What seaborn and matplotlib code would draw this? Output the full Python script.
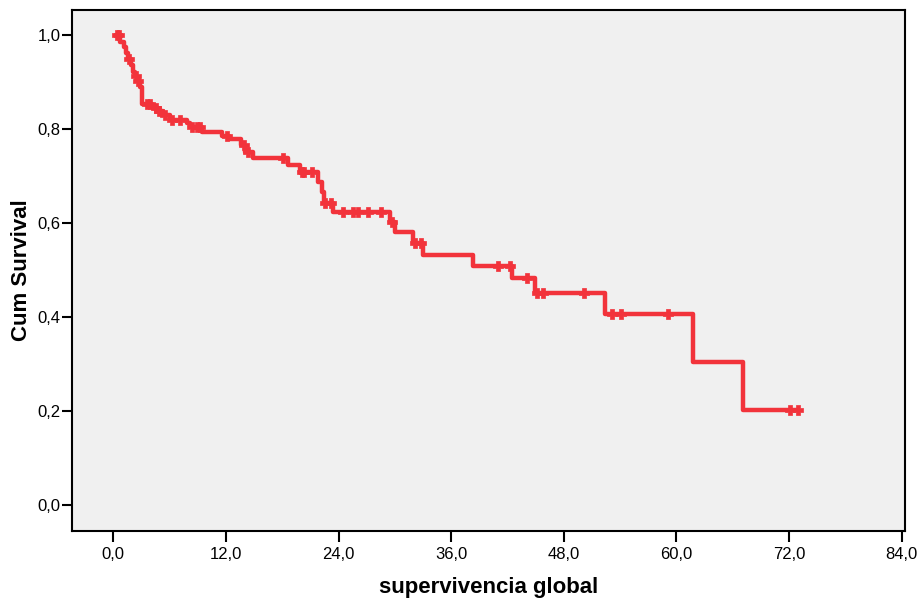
import numpy as np
import pandas as pd
import matplotlib
matplotlib.use("Agg")
import matplotlib.pyplot as plt
import seaborn as sns

# ---- data ----
event_times = [0.7, 1.1, 1.4, 1.6, 1.9, 2.1, 2.3, 2.5, 2.8, 3.1, 4.1, 4.8, 5.3, 6.0,
               7.9, 8.2, 9.4, 11.6, 12.3, 13.6, 14.0, 14.9, 18.6, 19.9, 21.8, 22.2,
               22.4, 23.4, 29.5, 30.0, 31.9, 33.0, 38.3, 42.5, 44.9, 52.4, 61.8, 67.1]
survival = [0.985, 0.975, 0.962, 0.948, 0.935, 0.922, 0.912, 0.902, 0.89, 0.853,
            0.845, 0.838, 0.83, 0.82, 0.812, 0.804, 0.794, 0.784, 0.779, 0.765,
            0.751, 0.738, 0.723, 0.709, 0.688, 0.665, 0.643, 0.623, 0.602, 0.581,
            0.557, 0.532, 0.509, 0.483, 0.451, 0.406, 0.304, 0.203]
censor_times = [0.4, 0.6, 1.7, 2.4, 2.6, 3.6, 3.9, 4.5, 4.9, 5.5, 6.3, 7.1, 8.4, 8.9,
                9.2, 12.1, 13.9, 14.3, 18.1, 20.1, 20.3, 21.2, 22.6, 23.2, 24.5, 25.5,
                26.1, 27.1, 28.5, 29.7, 32.1, 32.8, 41.0, 42.3, 44.1, 45.1, 45.8, 50.1,
                53.1, 54.1, 59.1, 72.1, 72.9]
start_time = 0.35
end_time = 73.0
x_ticks = [0, 12, 24, 36, 48, 60, 72, 84]
y_ticks = [0.0, 0.2, 0.4, 0.6, 0.8, 1.0]
x_label = "supervivencia global"
y_label = "Cum Survival"

# ---- build step table ----
line_t = [start_time] + event_times + [end_time]
line_s = [1.0] + survival + [survival[-1]]
curve = pd.DataFrame({"t": line_t, "s": line_s})

ev = np.array(event_times)
sv = np.array(survival)
idx = np.searchsorted(ev, np.array(censor_times), side="right") - 1
cens_s = np.where(idx >= 0, sv[np.clip(idx, 0, None)], 1.0)
cens = pd.DataFrame({"t": censor_times, "s": cens_s})

# ---- style ----
sns.set_theme(style="white")
plt.rcParams["font.family"] = ["Liberation Sans", "DejaVu Sans"]
plt.rcParams["text.color"] = "black"
plt.rcParams["axes.labelcolor"] = "black"
plt.rcParams["xtick.color"] = "black"
plt.rcParams["ytick.color"] = "black"

W, H = 919, 601
fig = plt.figure(figsize=(W / 100, H / 100), dpi=100)
left, right, top, bottom = 71.7, 905.5, 10, 531
ax = fig.add_axes([left / W, (H - bottom) / H, (right - left) / W, (bottom - top) / H])
ax.set_facecolor("#f0f0f0")

red = "#f2333b"
sns.lineplot(data=curve, x="t", y="s", ax=ax, color=red, linewidth=3.2,
             drawstyle="steps-post", sort=False, estimator=None)
sns.scatterplot(data=cens, x="t", y="s", ax=ax, color=red, marker="P", s=50,
                edgecolor=red, linewidth=0.5, zorder=3)

ax.set_xlim(-4.43, 84.4)
ax.set_ylim(-0.0553, 1.053)
ax.set_xticks(x_ticks)
ax.set_xticklabels([f"{v:.1f}".replace(".", ",") for v in x_ticks])
ax.set_yticks(y_ticks)
ax.set_yticklabels([f"{v:.1f}".replace(".", ",") for v in y_ticks])
ax.tick_params(axis="x", direction="out", length=8, width=1.5, color="black",
               labelcolor="black", labelsize=12, pad=3.5, bottom=True)
ax.tick_params(axis="y", direction="out", length=7, width=1.5, color="black",
               labelcolor="black", labelsize=12, pad=1, left=True)
for sp in ax.spines.values():
    sp.set_visible(True)
    sp.set_color("black")
    sp.set_linewidth(1.5)

ax.set_xlabel(x_label, fontsize=16, fontweight="bold", va="center", color="black")
ax.set_ylabel(y_label, fontsize=16, fontweight="bold", va="center", color="black")
ax.xaxis.set_label_coords(0.5, (bottom - 588) / (bottom - top))
ax.yaxis.set_label_coords((21 - left) / (right - left), 0.5)

fig.savefig("out.png", dpi=100, facecolor="white")
